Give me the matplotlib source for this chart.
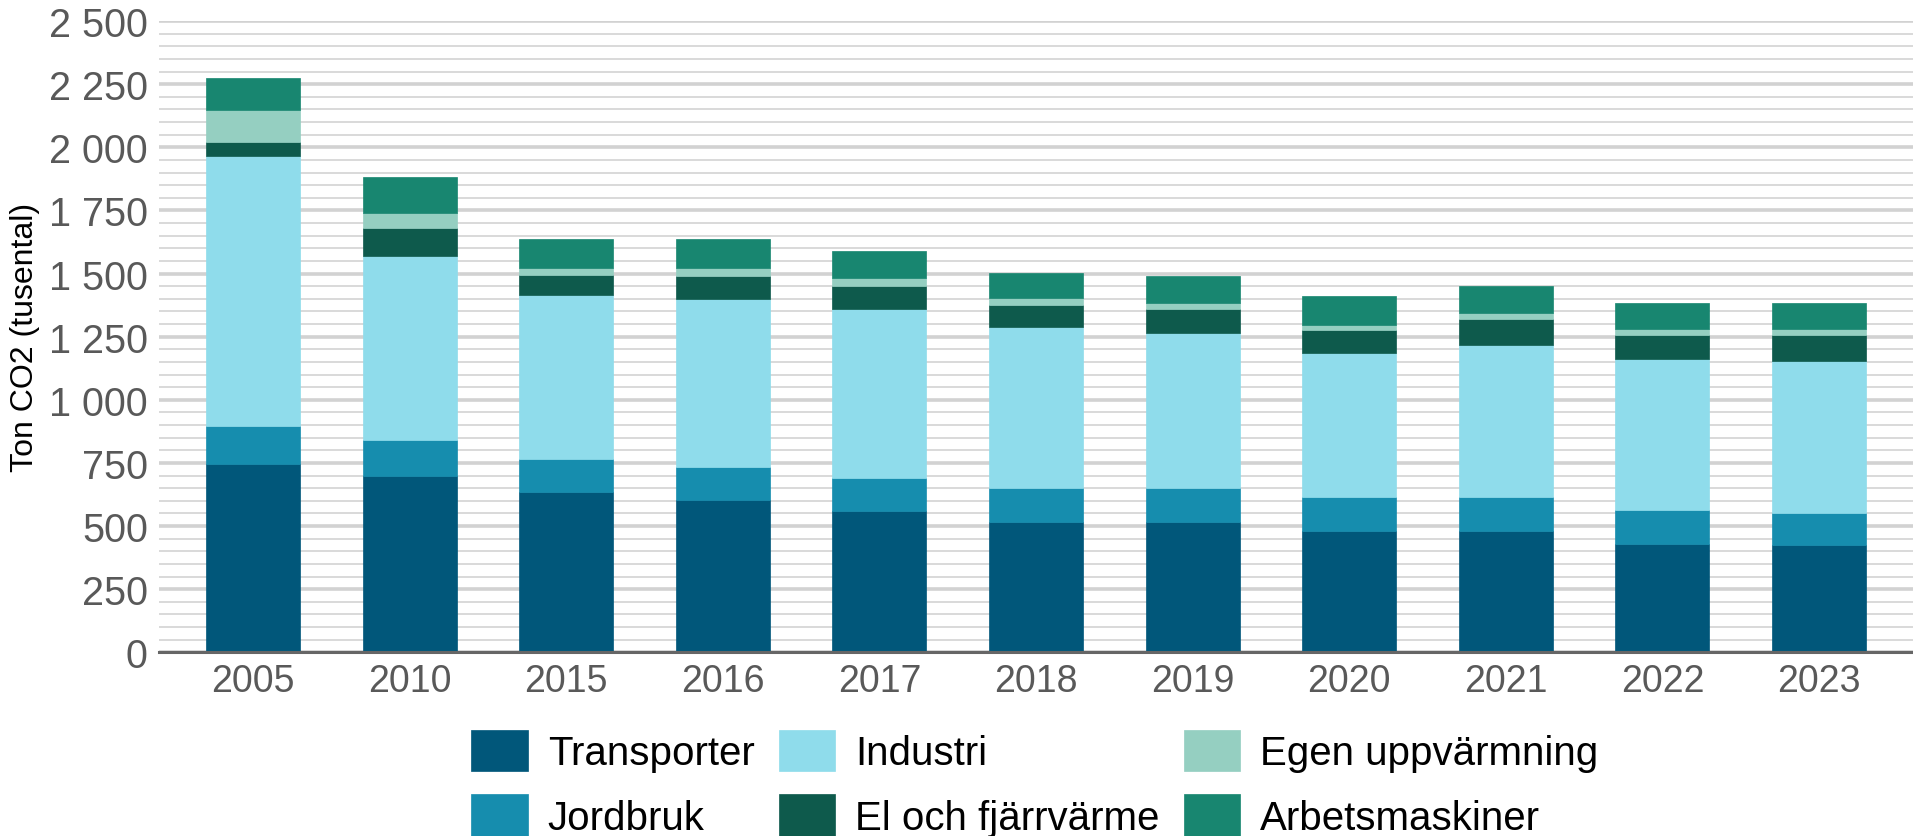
import matplotlib
matplotlib.use("Agg")
import matplotlib.pyplot as plt
import numpy as np
from matplotlib.ticker import MultipleLocator, FuncFormatter

years = ["2005", "2010", "2015", "2016", "2017", "2018", "2019", "2020", "2021", "2022", "2023"]
transporter = [746, 699, 634, 602, 561, 517, 517, 482, 482, 430, 425]
jordbruk = [151, 142, 132, 133, 129, 133, 133, 133, 133, 132, 128]
industri = [1069, 727, 647, 664, 670, 639, 613, 572, 603, 600, 599]
el_fjarrvarme = [55, 114, 80, 93, 92, 87, 97, 89, 102, 96, 106]
egen_uppvarmning = [128, 58, 30, 30, 30, 26, 22, 21, 22, 22, 22]
arbetsmaskiner = [127, 144, 115, 115, 107, 102, 109, 114, 110, 102, 102]

series = [
    ("Transporter", transporter, "#01577A"),
    ("Jordbruk", jordbruk, "#168DAE"),
    ("Industri", industri, "#8FDCEB"),
    ("El och fjärrvärme", el_fjarrvarme, "#0E5A4C"),
    ("Egen uppvärmning", egen_uppvarmning, "#95CFC1"),
    ("Arbetsmaskiner", arbetsmaskiner, "#188670"),
]

plt.rcParams['font.family'] = ['Liberation Sans', 'DejaVu Sans']

fig = plt.figure(figsize=(19.13, 8.37), dpi=100)
ax = fig.add_axes([0.0831, 0.2195, 0.9169, 0.7542])

x = np.arange(len(years))
bottom = np.zeros(len(years))
for name, vals, col in series:
    ax.bar(x, vals, width=0.6, bottom=bottom, color=col, label=name,
           edgecolor=col, linewidth=0.5, zorder=3)
    bottom += np.array(vals)

ax.set_xlim(-0.6, len(years) - 0.4)
ax.set_ylim(0, 2500)
ax.yaxis.set_major_locator(MultipleLocator(250))
ax.yaxis.set_minor_locator(MultipleLocator(50))
ax.yaxis.set_major_formatter(FuncFormatter(lambda v, p: f"{int(v):,}".replace(",", " ")))
ax.grid(axis='y', which='major', color='#D2D2D2', linewidth=2.6, zorder=0)
ax.grid(axis='y', which='minor', color='#D9D9D9', linewidth=1.4, zorder=0)
ax.set_axisbelow(True)

for s in ['top', 'right', 'left']:
    ax.spines[s].set_visible(False)
ax.spines['bottom'].set_color('#666666')
ax.spines['bottom'].set_linewidth(2.2)
ax.spines['bottom'].set_zorder(4)

ax.set_xticks(x)
ax.set_xticklabels(years)
ax.tick_params(axis='x', length=0, labelsize=27, labelcolor='#595959', pad=8)
ax.tick_params(axis='y', which='both', length=0, labelsize=28.5, labelcolor='#595959', pad=8)

ax.set_ylabel("Ton CO2 (tusental)", fontsize=23, color='black')
ax.yaxis.set_label_coords(-0.068, 0.5)

handles, labels = ax.get_legend_handles_labels()
leg = fig.legend(handles, labels, loc='center', bbox_to_anchor=(0.541, 0.063), ncol=3,
                 frameon=False, fontsize=29, handlelength=1.4, handleheight=1.2,
                 handletextpad=0.5, columnspacing=0.6, labelspacing=0.55,
                 borderaxespad=0, borderpad=0)

fig.savefig("out.png", dpi=100)
